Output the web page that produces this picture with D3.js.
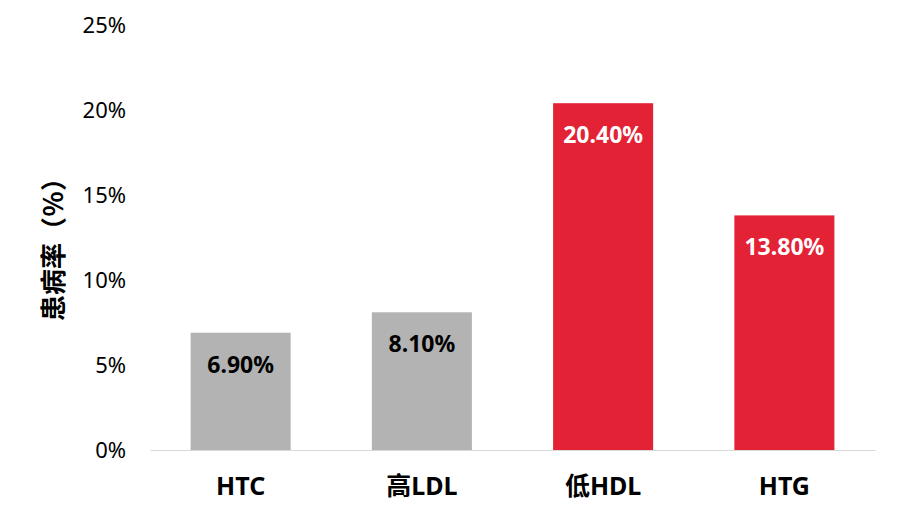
<html>
    <head>
        <script src="https://d3js.org/d3.v7.min.js"></script>
    </head>
    <style>
        body { margin: 0; background: #fff; }
        text { font-family: "Noto Sans", "Noto Sans CJK SC", sans-serif; }
    </style>
    <body>
        <svg id="barchart" width="898" height="525"></svg>
        <script>
            // data
            const categories = ["HTC", "高LDL", "低HDL", "HTG"];
            const rates = [6.9, 8.1, 20.4, 13.8];
            const valueLabels = ["6.90%", "8.10%", "20.40%", "13.80%"];
            const highlighted = [false, false, true, true];
            const yTicks = [0, 5, 10, 15, 20, 25];

            const svg = d3.select("svg#barchart");
            const margin = {top: 25, right: 23, bottom: 75, left: 150};
            const chartWidth = 898 - margin.left - margin.right;
            const chartHeight = 525 - margin.top - margin.bottom;

            const chartArea = svg.append("g")
                .attr("transform", "translate(" + margin.left + "," + margin.top + ")");

            const xScale = d3.scaleBand().domain(categories).range([0, chartWidth])
                .paddingInner(0.448).paddingOuter(0.224);
            const yScale = d3.scaleLinear().domain([0, 25]).range([chartHeight, 0]);

            // y axis labels only, no line
            let leftAxis = d3.axisLeft(yScale).tickValues(yTicks).tickSize(0).tickPadding(24)
                .tickFormat(d => d + "%");
            let yAxis = chartArea.append("g").call(leftAxis);
            yAxis.select(".domain").remove();
            yAxis.selectAll("text")
                .style("font-size", "22px")
                .attr("fill", "#000")
                .attr("font-family", "\"Noto Sans\", \"Noto Sans CJK SC\", sans-serif");

            // bars
            categories.forEach((c, i) => {
                chartArea.append("rect")
                    .attr("x", xScale(c))
                    .attr("y", yScale(rates[i]))
                    .attr("width", xScale.bandwidth())
                    .attr("height", chartHeight - yScale(rates[i]))
                    .attr("fill", highlighted[i] ? "#E32236" : "#B3B3B3");
                chartArea.append("text")
                    .attr("x", xScale(c) + xScale.bandwidth() / 2)
                    .attr("y", yScale(rates[i]) + 40)
                    .attr("text-anchor", "middle")
                    .style("font-size", "23px")
                    .style("font-weight", "bold")
                    .attr("fill", highlighted[i] ? "#fff" : "#000")
                    .text(valueLabels[i]);
            });

            // x axis
            let bottomAxis = d3.axisBottom(xScale).tickSize(0).tickPadding(0);
            let xAxis = chartArea.append("g")
                .attr("transform", "translate(0," + chartHeight + ")")
                .call(bottomAxis);
            xAxis.select(".domain").attr("stroke", "#d9d9d9").attr("stroke-width", 1);
            xAxis.selectAll("text")
                .style("font-size", "25px")
                .style("font-weight", "bold")
                .attr("fill", "#000")
                .attr("y", 45)
                .attr("dy", 0)
                .attr("font-family", "\"Noto Sans\", \"Noto Sans CJK SC\", sans-serif");

            // y axis title
            svg.append("text")
                .attr("transform", "translate(63,243) rotate(-90)")
                .attr("text-anchor", "middle")
                .style("font-size", "26px")
                .style("font-weight", "bold")
                .attr("font-family", "\"Noto Sans CJK SC\", sans-serif")
                .text("患病率（％）");
        </script>
    </body>
</html>
